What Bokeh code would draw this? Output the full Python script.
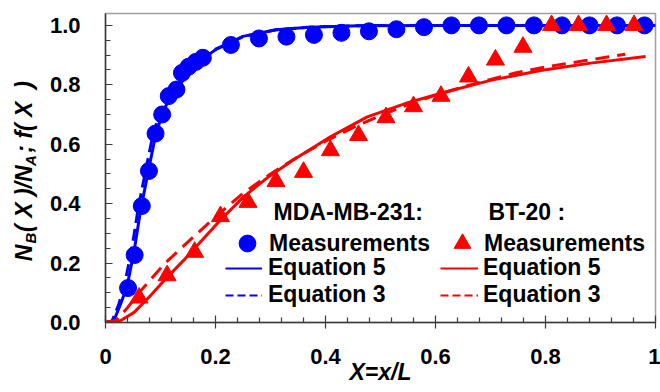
from bokeh.plotting import figure
from bokeh.models import Range1d, FixedTicker, Legend, LegendItem, Label, LinearAxis
from bokeh.embed import file_html
from bokeh.resources import INLINE

# ---------------- data ----------------
# MDA-MB-231 measurements (blue circles)
mda_x = [0.041, 0.053, 0.066, 0.079, 0.091, 0.103, 0.115, 0.129, 0.139, 0.151, 0.164, 0.177,
         0.228, 0.279, 0.329, 0.379, 0.429, 0.479, 0.529, 0.579, 0.629, 0.679, 0.729, 0.779,
         0.830, 0.880, 0.930, 0.980]
mda_y = [0.116, 0.227, 0.392, 0.510, 0.636, 0.700, 0.762, 0.784, 0.840, 0.861, 0.877, 0.891,
         0.934, 0.956, 0.962, 0.968, 0.975, 0.980, 0.987, 0.994, 1.0, 1.0, 1.0, 1.0,
         1.0, 1.0, 1.0, 1.0]
# MDA-MB-231 Equation 5 (solid blue)
mda_eq5_x = [0, 0.015, 0.027, 0.039, 0.052, 0.064, 0.079, 0.09, 0.1, 0.11, 0.121, 0.135, 0.145,
             0.16, 0.173, 0.19, 0.2, 0.25, 0.31, 0.37, 0.46, 0.6, 0.8, 1.0]
mda_eq5_y = [0, 0.005, 0.06, 0.12, 0.24, 0.38, 0.52, 0.62, 0.685, 0.73, 0.765, 0.80, 0.825,
             0.855, 0.878, 0.905, 0.918, 0.963, 0.985, 0.994, 0.999, 1.0, 1.0, 1.0]
# MDA-MB-231 Equation 3 (dashed blue)
mda_eq3_x = [0, 0.012, 0.024, 0.035, 0.048, 0.06, 0.075, 0.086, 0.097, 0.108, 0.12, 0.135,
             0.15, 0.17, 0.2, 0.25, 0.31, 0.37, 0.46, 0.6, 0.8, 1.0]
mda_eq3_y = [0, 0.005, 0.06, 0.13, 0.25, 0.39, 0.53, 0.63, 0.695, 0.74, 0.775, 0.81,
             0.84, 0.875, 0.92, 0.962, 0.985, 0.994, 0.999, 1.0, 1.0, 1.0]
# BT-20 measurements (red triangles)
bt_x = [0.061, 0.112, 0.162, 0.209, 0.259, 0.310, 0.360, 0.409, 0.460, 0.510, 0.560, 0.610,
        0.660, 0.709, 0.759, 0.811, 0.860, 0.911, 0.961]
bt_y = [0.083, 0.158, 0.237, 0.357, 0.405, 0.475, 0.506, 0.579, 0.630, 0.690, 0.727, 0.762,
        0.827, 0.884, 0.927, 1.0, 1.0, 1.0, 1.0]
# BT-20 Equation 5 (solid red)
bt_eq5_x = [0, 0.027, 0.052, 0.082, 0.112, 0.142, 0.173, 0.209, 0.251, 0.294, 0.342, 0.409,
            0.476, 0.55, 0.615, 0.7, 0.791, 0.882, 0.982]
bt_eq5_y = [0, 0.006, 0.034, 0.091, 0.152, 0.209, 0.272, 0.345, 0.423, 0.487, 0.548, 0.625,
            0.692, 0.74, 0.774, 0.815, 0.848, 0.873, 0.895]
# BT-20 Equation 3 (dashed red)
bt_eq3_x = [0, 0.02, 0.04, 0.067, 0.107, 0.151, 0.196, 0.25, 0.3, 0.35, 0.4, 0.45, 0.5, 0.55,
            0.6, 0.65, 0.7, 0.745, 0.806, 0.867, 0.945]
bt_eq3_y = [0, 0.008, 0.05, 0.113, 0.197, 0.273, 0.349, 0.435, 0.5, 0.558, 0.61, 0.656, 0.697,
            0.733, 0.765, 0.793, 0.818, 0.84, 0.862, 0.88, 0.903]

# ticks
x_major = [0, 0.2, 0.4, 0.6, 0.8, 1.0]
x_major_labels = ["0", "0.2", "0.4", "0.6", "0.8", "1"]
x_minor = [0.04, 0.08, 0.12, 0.16, 0.24, 0.28, 0.32, 0.36, 0.44, 0.48, 0.52, 0.56,
           0.64, 0.68, 0.72, 0.76, 0.84, 0.88, 0.92, 0.96]
y_major = [0, 0.2, 0.4, 0.6, 0.8, 1.0]
y_major_labels = ["0.0", "0.2", "0.4", "0.6", "0.8", "1.0"]
y_minor = [0.05, 0.1, 0.15, 0.25, 0.3, 0.35, 0.45, 0.5, 0.55, 0.65, 0.7, 0.75, 0.85, 0.9, 0.95]

group_titles = ["MDA-MB-231:", "BT-20 :"]
item_labels = ["Measurements", "Equation 5", "Equation 3"]

NB = "\u00a0"
x_title = "X=x/L"
# y title: main line (with room left for the subscripts) and the subscript line
y_title_main = "N" + NB * 2 + "( X )/N" + NB * 2 + ";" + NB + "f( X" + NB + " )" + NB
y_title_subs = "B" + NB * 16 + "A" + NB * 15

FONT = "Liberation Sans"
BLUE = "#0000ff"
RED = "#ff0000"

p = figure(width=660, height=392, output_backend="svg", toolbar_location=None,
           x_range=Range1d(0, 1), y_range=Range1d(0, 1.04),
           min_border_left=105, min_border_right=5, min_border_top=13, min_border_bottom=70)
p.xgrid.visible = False
p.ygrid.visible = False
p.outline_line_color = "#a0a0a0"
p.outline_line_width = 1.5
p.background_fill_color = "white"
p.border_fill_color = "white"

# axes
for ax in (p.xaxis[0], p.yaxis[0]):
    ax.axis_line_color = "#3a3a3a"
    ax.axis_line_width = 1.5
    ax.major_tick_line_color = "#3a3a3a"
    ax.minor_tick_line_color = "#3a3a3a"
    ax.major_tick_line_width = 1.2
    ax.minor_tick_line_width = 1.2
    ax.major_label_text_font = FONT
    ax.major_label_text_font_size = "22px"
    ax.major_label_text_font_style = "bold"
    ax.major_label_text_color = "black"
    ax.axis_label_text_font = FONT
    ax.axis_label_text_font_style = "bold italic"
    ax.axis_label_text_color = "black"

p.xaxis.ticker = FixedTicker(ticks=x_major, minor_ticks=x_minor)
p.xaxis.major_label_overrides = {v: s for v, s in zip(x_major, x_major_labels)}
p.xaxis.major_tick_in = 7
p.xaxis.major_tick_out = 6
p.xaxis.minor_tick_in = 5
p.xaxis.minor_tick_out = 0
p.xaxis.major_label_standoff = 20
p.xaxis.axis_label = x_title
p.xaxis.axis_label_text_font_size = "23px"
p.xaxis.axis_label_standoff = -8

p.yaxis.ticker = FixedTicker(ticks=y_major, minor_ticks=y_minor)
p.yaxis.major_label_overrides = {v: s for v, s in zip(y_major, y_major_labels)}
p.yaxis.major_tick_in = 7
p.yaxis.major_tick_out = 0
p.yaxis.minor_tick_in = 5
p.yaxis.minor_tick_out = 0
p.yaxis.major_label_standoff = 25
p.yaxis.axis_label = y_title_subs
p.yaxis.axis_label_text_font_size = "15px"
p.yaxis.axis_label_standoff = 8

# second (label-only) left axis carrying the main line of the y title
aux = LinearAxis(ticker=FixedTicker(ticks=[]), axis_line_color=None,
                 major_tick_line_color=None, minor_tick_line_color=None,
                 major_tick_in=0, major_tick_out=0, minor_tick_in=0, minor_tick_out=0,
                 major_label_standoff=0,
                 axis_label=y_title_main, axis_label_standoff=-18,
                 axis_label_text_font=FONT, axis_label_text_font_size="23px",
                 axis_label_text_font_style="bold italic", axis_label_text_color="black")
p.add_layout(aux, "left")

# curves
rb5 = p.line(mda_eq5_x, mda_eq5_y, line_color=BLUE, line_width=3)
rb3 = p.line(mda_eq3_x, mda_eq3_y, line_color=BLUE, line_width=3, line_dash="12 6")
rr5 = p.line(bt_eq5_x, bt_eq5_y, line_color=RED, line_width=3)
rr3 = p.line(bt_eq3_x, bt_eq3_y, line_color=RED, line_width=3, line_dash="14 8")
rc = p.scatter(mda_x, mda_y, marker="circle", size=17, fill_color=BLUE, line_color=BLUE)
rt = p.scatter(bt_x, bt_y, marker="triangle", size=18, fill_color=RED, line_color=RED)

# hidden twins used only for the legend samples (thinner, shorter dashes)
pb5 = p.line(mda_eq5_x, mda_eq5_y, line_color=BLUE, line_width=2, visible=False)
pb3 = p.line(mda_eq3_x, mda_eq3_y, line_color=BLUE, line_width=2, line_dash="8 4", visible=False)
pr5 = p.line(bt_eq5_x, bt_eq5_y, line_color=RED, line_width=2, visible=False)
pr3 = p.line(bt_eq3_x, bt_eq3_y, line_color=RED, line_width=2, line_dash="8 4", visible=False)

def make_legend(labels, rends, loc, gw, gh, standoff):
    lg = Legend(items=[LegendItem(label=l, renderers=[r]) for l, r in zip(labels, rends)],
                location=loc, padding=0, margin=0, spacing=0,
                glyph_width=gw, glyph_height=gh, label_height=gh, label_standoff=standoff,
                background_fill_alpha=0, border_line_alpha=0, inactive_fill_alpha=0,
                label_text_font=FONT, label_text_font_size="23px",
                label_text_font_style="bold", label_text_color="black")
    p.add_layout(lg)

# marker rows (big glyph box so that the legend marker is as large as in the plot)
make_legend(item_labels[:1], [rc], (121, 58), 42, 42, 1)
make_legend(item_labels[:1], [rt], (336, 58), 42, 42, 1)
# line rows
make_legend(item_labels[1:], [pb5, pb3], (120, 14), 37, 26, 6)
make_legend(item_labels[1:], [pr5, pr3], (335, 14), 38, 26, 5)

# group headers
for title, xo in zip(group_titles, [168, 383]):
    p.add_layout(Label(x=0, y=0, x_offset=xo, y_offset=111, text=title,
                       text_font=FONT, text_font_size="23px", text_font_style="bold",
                       text_align="left", text_baseline="middle", text_color="black"))

open("out.html", "w").write(file_html(p, INLINE))
